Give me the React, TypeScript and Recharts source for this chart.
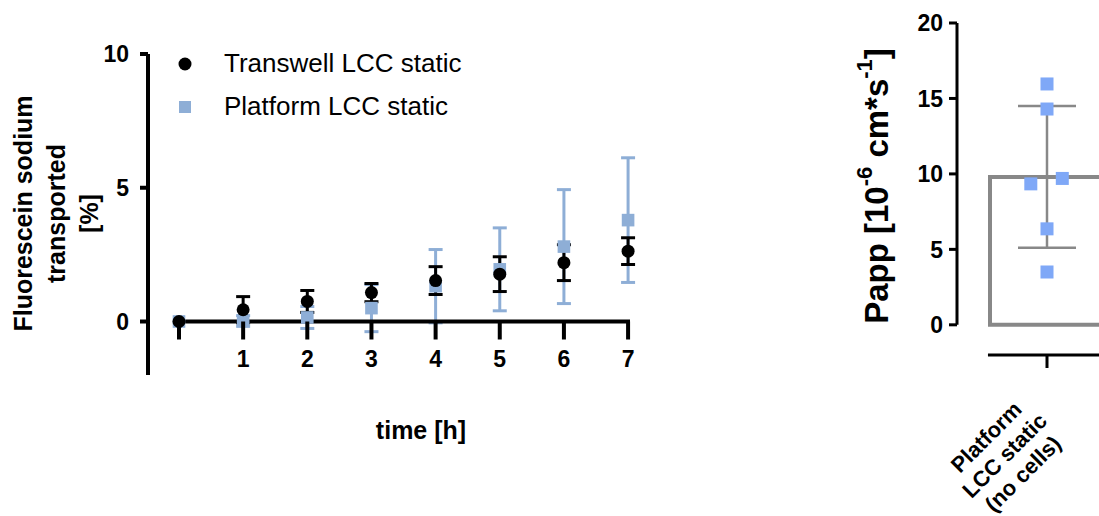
import React from 'react';
import {
  ComposedChart,
  Scatter,
  Bar,
  XAxis,
  YAxis,
  ErrorBar,
  ReferenceLine,
  Legend,
  Label,
} from 'recharts';

// time course (left panel)
const HOURS = [0, 1, 2, 3, 4, 5, 6, 7];
const TRANSWELL_MEAN = [0, 0.44, 0.75, 1.08, 1.53, 1.77, 2.2, 2.63];
const TRANSWELL_SD = [0, 0.49, 0.41, 0.34, 0.52, 0.65, 0.67, 0.5];
const PLATFORM_MEAN = [0, 0.02, 0.15, 0.5, 1.32, 1.95, 2.8, 3.79];
const PLATFORM_SD = [0, 0.2, 0.41, 0.88, 1.37, 1.55, 2.13, 2.33];
const HOUR_TICKS = [0, 1, 2, 3, 4, 5, 6, 7];
const PERCENT_TICKS = [0, 5, 10];

// Papp (right panel)
const GROUPS = ['Platform\nLCC static\n(no cells)'];
const PAPP_MEAN = [9.8];
const PAPP_SD = [4.7];
const PAPP_POINTS = [15.96, 14.3, 9.34, 9.7, 6.36, 3.5];
const PAPP_JITTER = [0, 0, -0.18, 0.17, 0, 0];
const PAPP_TICKS = [0, 5, 10, 15, 20];

const TRANSWELL = 'Transwell LCC static';
const PLATFORM = 'Platform LCC static';
const BLUE = '#8eaed6';
const FONT = '"Liberation Sans", Arial, sans-serif';
const TICK_FONT = 23;

const timeData = HOURS.map((t, i) => ({
  t,
  transwell: TRANSWELL_MEAN[i],
  transwellSd: TRANSWELL_SD[i],
  platform: PLATFORM_MEAN[i],
  platformSd: PLATFORM_SD[i],
}));

const barData = GROUPS.map((name, i) => ({ name, mean: PAPP_MEAN[i], sd: PAPP_SD[i] }));
const pointData = PAPP_POINTS.map((papp, i) => ({ papp, jitter: PAPP_JITTER[i] }));

// left plot geometry
const Y_MIN = -2;
const Y_MAX = 10;
const LEFT_TOP = 54;
const LEFT_BOTTOM = 375;
const zeroShift = ((LEFT_BOTTOM - LEFT_TOP) * (0 - Y_MIN)) / (Y_MAX - Y_MIN);

const HourTick = ({ x, y, payload }: any) => {
  const y0 = y - zeroShift;
  return (
    <g>
      <line x1={x} x2={x} y1={y0} y2={y0 + 18} stroke="#000" strokeWidth={4} />
      {payload.value !== 0 && (
        <text
          x={x}
          y={y0 + 37}
          textAnchor="middle"
          dominantBaseline="central"
          fontSize={TICK_FONT}
          fontWeight={700}
          fontFamily={FONT}
          fill="#000"
        >
          {payload.value}
        </text>
      )}
    </g>
  );
};

const GroupTick = ({ x, y, payload }: any) => {
  const lines = String(payload.value).split('\n');
  return (
    <g>
      <line x1={x} x2={x} y1={y} y2={y + 13} stroke="#000" strokeWidth={3} />
      <g transform={`translate(${x},${y}) rotate(-45)`}>
        {lines.map((ln, i) => (
          <text
            key={ln}
            x={-101}
            y={15 + 26 * i}
            textAnchor="middle"
            dominantBaseline="central"
            fontSize={22}
            fontWeight={700}
            fontFamily={FONT}
            fill="#000"
          >
            {ln}
          </text>
        ))}
      </g>
    </g>
  );
};

const PercentLabel = ({ viewBox }: any) => {
  const cx = viewBox.x + 23;
  const cy = viewBox.y + viewBox.height / 2 - 1;
  const lines = ['Fluorescein sodium', 'transported', '[%]'];
  return (
    <g transform={`translate(${cx},${cy}) rotate(-90)`}>
      {lines.map((ln, i) => (
        <text
          key={ln}
          x={0}
          y={33 * i}
          textAnchor="middle"
          dominantBaseline="central"
          fontSize={25}
          fontWeight={700}
          fontFamily={FONT}
          fill="#000"
        >
          {ln}
        </text>
      ))}
    </g>
  );
};

const TimeLabel = ({ viewBox }: any) => (
  <text
    x={viewBox.x + viewBox.width / 2 + 32}
    y={viewBox.y + 55}
    textAnchor="middle"
    dominantBaseline="central"
    fontSize={25}
    fontWeight={700}
    fontFamily={FONT}
    fill="#000"
  >
    time [h]
  </text>
);

const PappLabel = ({ viewBox }: any) => {
  const cx = viewBox.x + 56;
  const cy = viewBox.y + viewBox.height / 2 - 3;
  return (
    <g transform={`translate(${cx},${cy}) rotate(-90)`}>
      <text
        x={0}
        y={0}
        textAnchor="middle"
        dominantBaseline="central"
        fontSize={33}
        fontWeight={700}
        fontFamily={FONT}
        fill="#000"
      >
        <tspan>Papp [10</tspan>
        <tspan dy={-12} fontSize={22}>-6</tspan>
        <tspan dy={12}> cm*s</tspan>
        <tspan dy={-12} fontSize={22}>-1</tspan>
        <tspan dy={12}>]</tspan>
      </text>
    </g>
  );
};

const TimeLegend = ({ payload }: any) => {
  const items = [TRANSWELL, PLATFORM]
    .map((name) => (payload || []).find((p: any) => p.value === name))
    .filter(Boolean);
  return (
    <div style={{ fontFamily: FONT }}>
      {items.map((item: any) => (
        <div key={item.value} style={{ display: 'flex', alignItems: 'center', height: 43 }}>
          <svg width={20} height={20}>
            {item.value === TRANSWELL ? (
              <circle cx={10} cy={10} r={6.5} fill={item.color} />
            ) : (
              <rect x={4} y={4} width={12} height={12} fill={item.color} />
            )}
          </svg>
          <span style={{ marginLeft: 29, fontSize: 26, color: '#000', lineHeight: '43px' }}>
            {item.value}
          </span>
        </div>
      ))}
    </div>
  );
};

const dot = (props: any) => <circle cx={props.cx} cy={props.cy} r={6.5} fill="#000" />;
const lightSquare = (props: any) => (
  <rect x={props.cx - 6.3} y={props.cy - 6.3} width={12.6} height={12.6} fill={BLUE} />
);
const pappSquare = (props: any) => (
  <rect x={props.cx - 6.5} y={props.cy - 6.5} width={13} height={13} fill="#7fa8f7" />
);

export default function App() {
  return (
    <div
      style={{
        position: 'fixed',
        left: 0,
        top: 0,
        width: 1099,
        height: 516,
        overflow: 'hidden',
        background: '#fff',
        fontFamily: FONT,
      }}
    >
      <div style={{ position: 'absolute', left: 0, top: 0 }}>
        <ComposedChart
          width={680}
          height={516}
          data={timeData}
          margin={{ top: LEFT_TOP, right: 50, left: 0, bottom: 516 - LEFT_BOTTOM - 70 }}
        >
          <XAxis
            dataKey="t"
            type="number"
            domain={[-0.483, 7.03]}
            ticks={HOUR_TICKS}
            axisLine={false}
            tickLine={false}
            tickSize={0}
            tickMargin={0}
            height={70}
            tick={<HourTick />}
            interval={0}
          >
            <Label content={<TimeLabel />} />
          </XAxis>
          <YAxis
            type="number"
            domain={[Y_MIN, Y_MAX]}
            ticks={PERCENT_TICKS}
            width={148}
            axisLine={{ stroke: '#000', strokeWidth: 4 }}
            tickLine={{ stroke: '#000', strokeWidth: 4 }}
            tickSize={8}
            tickMargin={11}
            tick={{ fill: '#000', fontSize: TICK_FONT, fontWeight: 700, fontFamily: FONT }}
            interval={0}
          >
            <Label content={<PercentLabel />} />
          </YAxis>
          <Legend
            content={<TimeLegend />}
            layout="vertical"
            align="center"
            verticalAlign="middle"
            wrapperStyle={{ left: 175, top: 42, width: 320 }}
          />
          <Scatter
            name={PLATFORM}
            dataKey="platform"
            fill={BLUE}
            shape={lightSquare}
            isAnimationActive={false}
          >
            <ErrorBar dataKey="platformSd" direction="y" width={7} stroke={BLUE} strokeWidth={3} />
          </Scatter>
          <ReferenceLine
            segment={[
              { x: -0.094, y: 0 },
              { x: 7.03, y: 0 },
            ]}
            stroke="#000"
            strokeWidth={4}
            ifOverflow="visible"
          />
          <Scatter
            name={TRANSWELL}
            dataKey="transwell"
            fill="#000"
            shape={dot}
            isAnimationActive={false}
          >
            <ErrorBar dataKey="transwellSd" direction="y" width={7} stroke="#000" strokeWidth={3} />
          </Scatter>
        </ComposedChart>
      </div>

      <div style={{ position: 'absolute', left: 820, top: 0 }}>
        <ComposedChart
          width={400}
          height={516}
          data={barData}
          margin={{ top: 23, right: 83, left: 0, bottom: 0 }}
        >
          <XAxis
            xAxisId="cat"
            dataKey="name"
            type="category"
            axisLine={false}
            tickLine={false}
            tickSize={0}
            tickMargin={0}
            height={161}
            tick={<GroupTick />}
            interval={0}
          />
          <XAxis xAxisId="jit" dataKey="jitter" type="number" domain={[-1, 1]} hide />
          <YAxis
            type="number"
            domain={[-2, 20]}
            ticks={PAPP_TICKS}
            width={137}
            axisLine={false}
            tickLine={{ stroke: '#000', strokeWidth: 3 }}
            tickSize={8}
            tickMargin={6}
            tick={{ fill: '#000', fontSize: TICK_FONT, fontWeight: 700, fontFamily: FONT }}
            interval={0}
          >
            <Label content={<PappLabel />} />
          </YAxis>
          <ReferenceLine
            xAxisId="jit"
            segment={[
              { x: -1, y: 0 },
              { x: -1, y: 20 },
            ]}
            stroke="#000"
            strokeWidth={3}
            ifOverflow="visible"
          />
          <ReferenceLine
            xAxisId="jit"
            segment={[
              { x: -0.656, y: -2 },
              { x: 1, y: -2 },
            ]}
            stroke="#000"
            strokeWidth={3}
            ifOverflow="visible"
          />
          <Bar
            xAxisId="cat"
            dataKey="mean"
            barSize={114}
            fill="#fff"
            stroke="#888"
            strokeWidth={4}
            isAnimationActive={false}
          >
            <ErrorBar dataKey="sd" direction="y" width={29} stroke="#888" strokeWidth={2.5} />
          </Bar>
          <Scatter
            xAxisId="jit"
            data={pointData}
            dataKey="papp"
            shape={pappSquare}
            isAnimationActive={false}
          />
        </ComposedChart>
      </div>
    </div>
  );
}
